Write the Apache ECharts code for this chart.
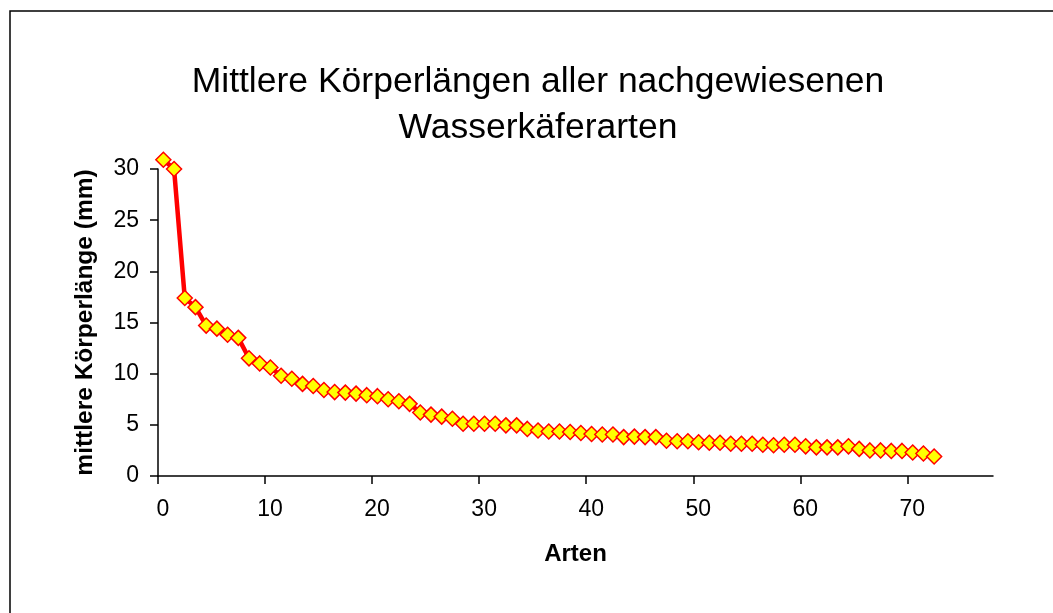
<!DOCTYPE html>
<html>
<head>
    <meta charset="utf-8">
    <title>Wasserkäferarten</title>
    <script src="https://cdn.jsdelivr.net/npm/echarts/dist/echarts.min.js"></script>
    <style>
    html, body { margin: 0; padding: 0; background: #fff; }
    #main { width: 1053px; height: 613px; }
    </style>
</head>
<body>
    <div id="main"></div>
    <script type="text/javascript">
        // mittlere Körperlänge (mm) je Art, absteigend sortiert
        var lengths = [30.9, 30.0, 17.4, 16.5, 14.7, 14.4, 13.8, 13.5, 11.5, 11.0,
                       10.6, 9.8, 9.5, 9.0, 8.8, 8.4, 8.2, 8.15, 8.05, 7.9,
                       7.8, 7.5, 7.3, 7.05, 6.2, 6.0, 5.8, 5.6, 5.1, 5.1,
                       5.1, 5.1, 4.95, 4.95, 4.6, 4.45, 4.35, 4.35, 4.3, 4.2,
                       4.1, 4.05, 4.05, 3.8, 3.85, 3.8, 3.8, 3.45, 3.4, 3.4,
                       3.3, 3.25, 3.25, 3.15, 3.15, 3.15, 3.05, 3.0, 3.05, 3.05,
                       2.9, 2.8, 2.8, 2.8, 2.9, 2.65, 2.5, 2.5, 2.45, 2.45,
                       2.3, 2.2, 1.9];
        var xTicks = [0, 10, 20, 30, 40, 50, 60, 70];
        var yTicks = [0, 5, 10, 15, 20, 25, 30];

        // jede Art sitzt in der Mitte ihres Abschnitts
        var points = lengths.map(function (v, i) { return [i + 0.5, v]; });

        var font = 'Liberation Sans, Arial, sans-serif';
        var myChart = echarts.init(document.getElementById('main'));
        var option = {
            backgroundColor: '#ffffff',
            animation: false,
            title: {
                text: 'Mittlere Körperlängen aller nachgewiesenen\nWasserkäferarten',
                left: 533,
                top: 54,
                textAlign: 'center',
                textStyle: {
                    fontFamily: font,
                    fontSize: 35.5,
                    fontWeight: 'normal',
                    color: '#000',
                    lineHeight: 46
                }
            },
            graphic: [{
                type: 'rect',
                shape: { x: 10, y: 11, width: 1100, height: 700 },
                style: { fill: 'none', stroke: '#000', lineWidth: 1.5 },
                silent: true
            }],
            grid: {
                left: 158,
                right: 60,
                top: 169,
                bottom: 137
            },
            xAxis: {
                type: 'value',
                min: 0,
                max: 78,
                interval: 10,
                name: 'Arten',
                nameLocation: 'middle',
                nameGap: 66,
                nameTextStyle: { fontFamily: font, fontSize: 24, fontWeight: 'bold', color: '#000' },
                axisLine: { lineStyle: { color: '#000', width: 1.5 } },
                axisTick: { customValues: xTicks, length: 8, lineStyle: { color: '#000', width: 1.5 } },
                axisLabel: { customValues: xTicks, margin: 22, padding: [0, 0, 0, 10], fontFamily: font, fontSize: 23, color: '#000' },
                splitLine: { show: false }
            },
            yAxis: {
                type: 'value',
                min: 0,
                max: 30,
                interval: 5,
                name: 'mittlere Körperlänge (mm)',
                nameLocation: 'middle',
                nameGap: 60,
                nameTextStyle: { fontFamily: font, fontSize: 24.5, fontWeight: 'bold', color: '#000' },
                axisLine: { show: true, lineStyle: { color: '#000', width: 1.5 } },
                axisTick: { show: true, customValues: yTicks, length: 8, lineStyle: { color: '#000', width: 1.5 } },
                axisLabel: { customValues: yTicks, margin: 19, fontFamily: font, fontSize: 23, color: '#000' },
                splitLine: { show: false }
            },
            series: [{
                name: 'mittlere Körperlänge',
                type: 'line',
                data: points,
                clip: false,
                symbol: 'diamond',
                symbolSize: 15,
                showSymbol: true,
                lineStyle: { color: '#ff0000', width: 4.5 },
                itemStyle: { color: '#ffff00', borderColor: '#ff0000', borderWidth: 1.5 }
            }]
        };
        myChart.setOption(option);
    </script>
</body>
</html>
